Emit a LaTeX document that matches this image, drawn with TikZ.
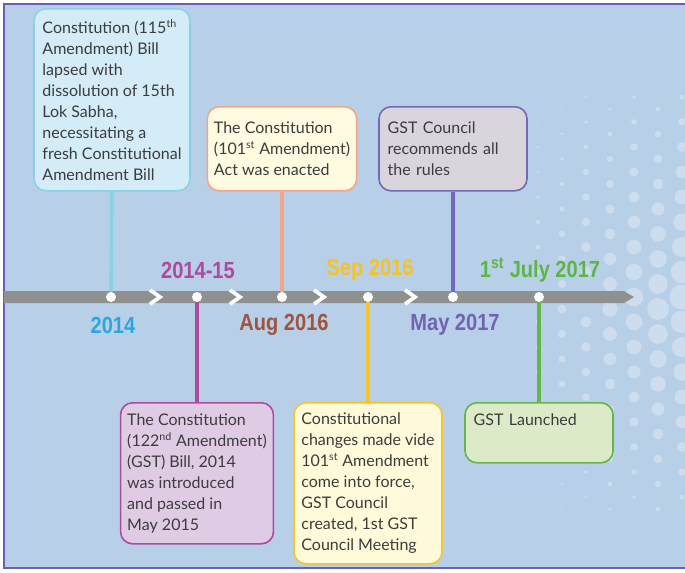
\documentclass[tikz,border=0pt]{standalone}
\usepackage{fontspec}
\setmainfont{Lato}
\newfontfamily\datefont[FakeStretch=0.86]{Liberation Sans}
\usetikzlibrary{positioning}

\definecolor{bgblue}{RGB}{184,207,232}
\definecolor{framepurple}{RGB}{107,95,181}
\definecolor{bargray}{RGB}{143,145,145}
\definecolor{txtgray}{RGB}{60,60,60}
% box fills, borders and stems
\definecolor{cyanfill}{RGB}{212,236,248}
\definecolor{cyanline}{RGB}{136,210,228}
\definecolor{orangefill}{RGB}{254,251,224}
\definecolor{orangeline}{RGB}{242,166,140}
\definecolor{violetfill}{RGB}{218,213,221}
\definecolor{violetline}{RGB}{117,104,186}
\definecolor{magentafill}{RGB}{223,204,228}
\definecolor{magentaline}{RGB}{176,74,157}
\definecolor{yellowfill}{RGB}{255,250,218}
\definecolor{yellowline}{RGB}{248,196,40}
\definecolor{greenfill}{RGB}{221,234,200}
\definecolor{greenline}{RGB}{100,182,76}
% date labels
\definecolor{date14}{RGB}{42,167,223}
\definecolor{date1415}{RGB}{174,74,157}
\definecolor{dateaug}{RGB}{160,83,62}
\definecolor{datesep}{RGB}{249,194,28}
\definecolor{datemay}{RGB}{111,99,178}
\definecolor{datejul}{RGB}{93,181,72}

\tikzset{
  eventbox/.style={draw, line width=1.2pt, rounded corners=9pt, anchor=north,
    align=left, inner xsep=5pt, inner ysep=2pt, text=txtgray,
    font=\fontsize{12}{15.75}\selectfont},
  stem/.style={line width=2.6pt},
  stop/.style={circle, fill=white, minimum size=7.5pt, inner sep=0pt},
  chevron/.style={white, line width=2.8pt, line join=miter},
  datelbl/.style={font=\datefont\bfseries\fontsize{17.5}{19}\selectfont, inner sep=0pt}
}

\begin{document}
\begin{tikzpicture}[x=0.75pt,y=0.75pt,yscale=-1,xscale=1]
\useasboundingbox (0,0) rectangle (685,572);

% Background and frame
\fill[bgblue] (4,4) rectangle (685,568);
\draw[framepurple, line width=1.5pt] (685,4) -- (4,4) -- (4,568) -- (685,568);

% Dotted pattern on the right
\foreach \c in {0,...,6} {
  \foreach \r in {-8,...,8} {
    \pgfmathsetmacro\px{682-24*\c}
    \pgfmathsetmacro\py{297+25*\r+12*mod(\c,2)}
    \pgfmathsetmacro\rad{max(0,(12.5-1.6*\c)*(1-abs(\r)/10))}
    \fill[white, opacity=0.3] (\px,\py) circle[radius=\rad];
  }
}

% Timeline bar
\fill[bargray] (4,291) -- (624,291) -- (634,297) -- (624,303) -- (4,303) -- cycle;
\foreach \x in {155,235,319,410}
  \draw[chevron] (\x-5,290) -- (\x+5,297) -- (\x-5,304);

% Stops on the bar
\node[stop] (d1) at (111,297) {};
\node[stop] (d2) at (197,297) {};
\node[stop] (d3) at (282,297) {};
\node[stop] (d4) at (368,297) {};
\node[stop] (d5) at (453,297) {};
\node[stop] (d6) at (539,297) {};

% Date labels
\node[datelbl, text=date14] (l1) at (113,325) {2014};
\node[datelbl, text=date1415] (l2) at (198,270) {2014-15};
\node[datelbl, text=dateaug] (l3) at (284,325) {Aug 2016};
\node[datelbl, text=datesep] (l4) at (370,270) {Sep 2016};
\node[datelbl, text=datemay] (l5) at (455,325) {May 2017};
\node[datelbl, text=datejul] (l6) at (540,270) {1\textsuperscript{st} July 2017};

% Event boxes above the bar
\node[eventbox, fill=cyanfill, draw=cyanline, minimum width=117pt, minimum height=136.5pt] (b1) at (112,8)
  {Constitution (115\textsuperscript{th}\\Amendment) Bill\\lapsed with\\dissolution of 15th\\Lok Sabha,\\necessitating a\\fresh Constitutional\\Amendment Bill};
\node[eventbox, fill=orangefill, draw=orangeline, minimum width=111pt, minimum height=63pt] (b2) at (282,106)
  {The Constitution\\(101\textsuperscript{st} Amendment)\\Act was enacted};
\node[eventbox, fill=violetfill, draw=violetline, minimum width=111pt, minimum height=63pt, text width=98pt, inner xsep=6.5pt] (b3) at (453,106)
  {GST Council\\recommends all\\the rules};

% Event boxes below the bar
\node[eventbox, fill=magentafill, draw=magentaline, minimum width=111.75pt, minimum height=105.75pt] (b4) at (197,402)
  {The Constitution\\(122\textsuperscript{nd} Amendment)\\(GST) Bill, 2014\\was introduced\\and passed in\\May 2015};
\node[eventbox, fill=yellowfill, draw=yellowline, minimum width=111pt, minimum height=120.75pt] (b5) at (368,402)
  {Constitutional\\changes made vide\\101\textsuperscript{st} Amendment\\come into force,\\GST Council\\created, 1st GST\\Council Meeting};
\node[eventbox, fill=greenfill, draw=greenline, minimum height=45pt, text width=98pt, inner xsep=6.5pt] (b6) at (539,402)
  {GST Launched\par\strut};

% Stems
\draw[stem, cyanline] (b1.south) -- (d1.north);
\draw[stem, orangeline] (b2.south) -- (d3.north);
\draw[stem, violetline] (b3.south) -- (d5.north);
\draw[stem, magentaline] (d2.south) -- (b4.north);
\draw[stem, yellowline] (d4.south) -- (b5.north);
\draw[stem, greenline] (d6.south) -- (b6.north);

\end{tikzpicture}
\end{document}
